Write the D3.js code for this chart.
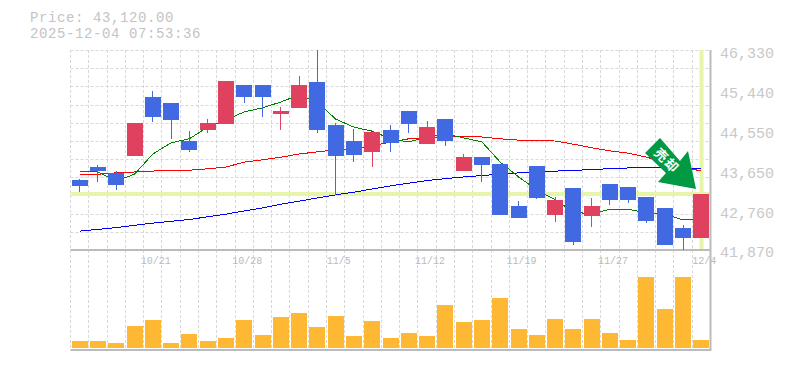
<!DOCTYPE html>
<html>
<head>
<meta charset="utf-8">
<script src="https://cdn.jsdelivr.net/npm/d3@7"></script>
<style>
  html, body { margin: 0; background: #fff; }
  svg { display: block; }
  text { font-family: "Liberation Mono", monospace; }
</style>
</head>
<body>
<svg id="chart" width="785" height="370"></svg>
<script>
const dates = ["10/15","10/16","10/17","10/20","10/21","10/22","10/23","10/24","10/27","10/28",
  "10/29","10/30","10/31","11/4","11/5","11/6","11/7","11/10","11/11","11/12",
  "11/13","11/14","11/17","11/18","11/19","11/20","11/21","11/25","11/26","11/27",
  "11/28","12/1","12/2","12/3","12/4"];
const dateTicks = ["10/21","10/28","11/5","11/12","11/19","11/27","12/4"];
const priceTicks = [41870, 42760, 43650, 44550, 45440, 46330];

const opens = [43430,43720,43590,43970,45280,45150,44300,44550,44680,45550,
  45550,44900,45040,45620,44660,44300,44060,44550,44970,44230,
  44790,43630,43940,43790,42850,43740,42650,43250,42630,43340,
  43280,43050,42810,42360,42140];
const closes = [43300,43630,43320,44700,44840,44770,44100,44700,45640,45280,
  45280,44970,45550,44550,43970,43990,44500,44260,44680,44610,
  44300,43940,43770,42650,42580,43030,42990,42050,42850,42990,
  42990,42520,41980,42140,43120];
const highs = [43450,43770,43630,44700,45420,45150,44520,44790,45640,45550,
  45550,45060,45750,46400,44700,44570,44500,44660,44970,44750,
  44790,44010,43770,43790,42960,43740,43050,43250,43030,43340,
  43280,43050,42810,42430,43120];
const lows = [43160,43390,43210,43970,44720,44350,44060,44480,44680,45150,
  44840,44550,45040,44480,43100,43830,43720,44060,44480,44230,
  44190,43630,43390,42650,42580,43010,42490,41980,42380,42870,
  42920,42470,41980,41850,42140];
const volumes = [7,7,5,22,28,5,14,7,10,28,13,31,35,21,32,12,27,10,
  15,12,43,26,28,50,19,13,29,19,29,15,8,71,39,71,8];
const maShort = [43630,43610,43410,43560,44010,44260,44350,44610,44770,44950,
  45040,45170,45330,45170,44790,44610,44520,44350,44280,44390,
  44460,44370,44280,43830,43500,43210,42990,42720,42670,42780,
  42780,42700,42670,42540,42560];
const maMid = [43560,43560,43590,43610,43630,43650,43650,43680,43720,43830,
  43880,43940,44010,44060,44100,44120,44190,44280,44350,44350,
  44410,44410,44390,44350,44320,44320,44300,44230,44150,44080,
  44030,43940,43830,43720,43630];
const maLong = [42290,42330,42370,42420,42470,42510,42550,42610,42670,42740,
  42810,42890,42960,43030,43100,43160,43230,43300,43360,43420,
  43460,43500,43530,43560,43590,43610,43630,43640,43670,43680,
  43700,43710,43710,43700,43680];
const lastPrice = 43120;

const plotLeft = 70.5, plotRight = 710.5, plotTop = 50, priceBottom = 250, volBottom = 348, volTop = 277;
const upCol = "#e0415e", downCol = "#4169e1", gridCol = "#d8d8d8", axisCol = "#bbb", hilite = "#e6f5aa";

const x = d3.scaleBand().domain(dates).range([plotLeft, plotRight]);
const cx = d => x(d) + x.bandwidth() / 2;
const y = d3.scaleLinear().domain([41870, 46330]).range([priceBottom, plotTop]);
const v = d3.scaleLinear().domain([0, d3.max(volumes)]).range([volBottom, volTop]);

const svg = d3.select("#chart");

// grid
const hLines = d3.range(0, 12).map(i => plotTop + i * (priceBottom - plotTop) / 11);
svg.append("g").selectAll("line").data(hLines).join("line")
  .attr("x1", plotLeft).attr("x2", plotRight)
  .attr("y1", d => Math.round(d) + 0.5).attr("y2", d => Math.round(d) + 0.5)
  .attr("stroke", gridCol).attr("stroke-dasharray", "3,2");
svg.append("g").selectAll("line").data(dates).join("line")
  .attr("x1", d => Math.floor(x(d)) + 0.5).attr("x2", d => Math.floor(x(d)) + 0.5)
  .attr("y1", plotTop).attr("y2", 350)
  .attr("stroke", gridCol).attr("stroke-dasharray", "3,2");

// last price highlight
svg.append("rect").attr("x", plotLeft).attr("y", Math.round(y(lastPrice)) - 2)
  .attr("width", plotRight - plotLeft).attr("height", 4).attr("fill", hilite);
svg.append("rect").attr("x", Math.round(cx("12/4")) - 1.5).attr("y", plotTop)
  .attr("width", 4).attr("height", priceBottom - plotTop - 1).attr("fill", hilite);

// frame
svg.append("path").attr("fill", "none").attr("stroke", axisCol).attr("stroke-width", 2)
  .attr("d", `M${plotLeft},${priceBottom}H${plotRight}M${plotLeft},350H${plotRight}M${plotRight},${plotTop}V351`);

svg.append("clipPath").attr("id", "plot").append("rect")
  .attr("x", plotLeft).attr("y", plotTop).attr("width", plotRight - plotLeft).attr("height", priceBottom - plotTop);
const plot = svg.append("g").attr("clip-path", "url(#plot)");

// moving averages
const line = d3.line().x((d, i) => cx(dates[i])).y(d => y(d));
[[maLong, "#0000ff"], [maMid, "#ff0000"], [maShort, "#008000"]].forEach(([vals, col]) => {
  plot.append("path").attr("d", line(vals)).attr("fill", "none")
    .attr("stroke", col).attr("stroke-width", 1).attr("shape-rendering", "crispEdges");
});

// candles
const candles = dates.map((d, i) => ({ d, o: opens[i], c: closes[i], h: highs[i], l: lows[i] }));
const col = d => d.c >= d.o ? upCol : downCol;
plot.selectAll("line.wick").data(candles).join("line").attr("class", "wick")
  .attr("x1", d => Math.floor(cx(d.d)) + 0.5).attr("x2", d => Math.floor(cx(d.d)) + 0.5)
  .attr("y1", d => y(d.h)).attr("y2", d => y(d.l))
  .attr("stroke", col).attr("shape-rendering", "crispEdges");
plot.selectAll("rect.body").data(candles).join("rect").attr("class", "body")
  .attr("x", d => Math.round(cx(d.d)) - 8).attr("width", 16)
  .attr("y", d => Math.round(y(Math.max(d.o, d.c))))
  .attr("height", d => Math.max(1, Math.round(Math.abs(y(d.o) - y(d.c)))))
  .attr("fill", col);

// volume
svg.append("g").selectAll("rect").data(volumes).join("rect")
  .attr("x", (d, i) => Math.round(cx(dates[i])) - 8).attr("width", 16)
  .attr("y", d => Math.round(v(d))).attr("height", d => volBottom - Math.round(v(d)))
  .attr("fill", "#ffb833");

// axes
const xAxis = svg.append("g").attr("transform", `translate(3,${priceBottom})`)
  .call(d3.axisBottom(x).tickValues(dateTicks).tickSize(0).tickPadding(7));
xAxis.select(".domain").remove();
xAxis.selectAll("text").attr("fill", "#bbb").style("font-size", "10px")
  .style("font-family", "'Liberation Mono', monospace");

const yLabel = d3.scaleLinear().domain([41870, 46330]).range([252, 53]);
const yAxis = svg.append("g").attr("transform", "translate(720,0)")
  .call(d3.axisRight(yLabel).tickValues(priceTicks).tickSize(0).tickPadding(0).tickFormat(d3.format(",")));
yAxis.select(".domain").remove();
yAxis.selectAll("text").attr("fill", "#c8c8c8").style("font-size", "15px")
  .style("font-family", "'Liberation Mono', monospace");

// header
svg.append("text").attr("x", 30).attr("y", 22).attr("fill", "#c4c4c4")
  .style("font-size", "14px").style("letter-spacing", "0.6px")
  .text("Price: " + d3.format(",.2f")(lastPrice));
svg.append("text").attr("x", 30).attr("y", 38).attr("fill", "#c4c4c4")
  .style("font-size", "14px").style("letter-spacing", "0.6px")
  .text("2025-12-04 07:53:36");

// signal arrow
const arrowShape = [[660,138],[645,153],[666,173],[658,182],[696,189],[688,151],[680,161]];
svg.append("polygon").attr("points", arrowShape.join(" ")).attr("fill", "#009944");
svg.append("text").attr("transform", "translate(667.5,160) rotate(45)")
  .attr("text-anchor", "middle").attr("dominant-baseline", "central")
  .attr("fill", "#fff").style("font-family", "'Noto Sans CJK JP'").style("font-size", "13px")
  .style("letter-spacing", "1.5px").style("font-weight", "700").text("売却");
</script>
</body>
</html>
